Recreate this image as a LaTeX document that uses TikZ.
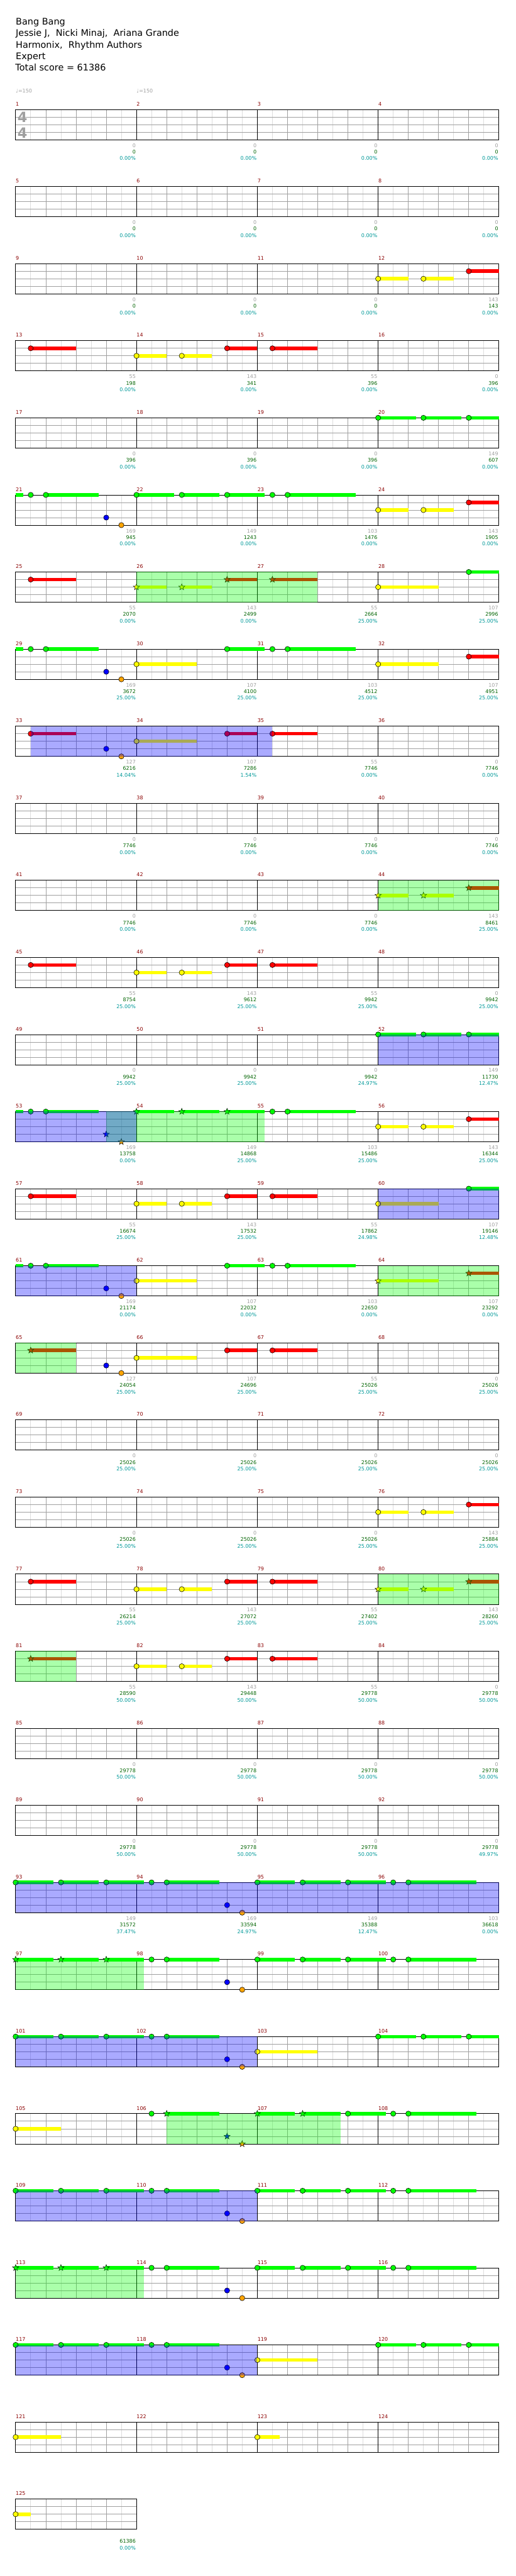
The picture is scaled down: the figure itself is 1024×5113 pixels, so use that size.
\documentclass[tikz,border=0pt]{standalone}
\usepackage{fontspec}
\setmainfont{DejaVu Sans}
\usetikzlibrary{shapes.geometric}
\definecolor{lgrid}{RGB}{221,221,221}
\definecolor{ggrid}{RGB}{160,160,160}
\definecolor{mnum}{RGB}{139,0,0}
\definecolor{lgray}{RGB}{160,160,160}
\definecolor{lgreen}{RGB}{0,100,0}
\definecolor{lteal}{RGB}{0,153,153}
\definecolor{ngreen}{RGB}{0,255,0}
\definecolor{nred}{RGB}{255,0,0}
\definecolor{nyellow}{RGB}{255,255,0}
\definecolor{nblue}{RGB}{0,0,255}
\definecolor{norange}{RGB}{255,165,0}
\tikzset{
 lab/.style={anchor=base east, inner sep=0pt, font=\fontsize{10}{12}\selectfont},
 mnumst/.style={anchor=base west, inner sep=0pt, text=mnum, font=\fontsize{10}{12}\selectfont},
 starnote/.style={star, star points=5, star point ratio=2.4, minimum size=13pt, inner sep=0pt, draw=black, line width=0.6pt},
 hdr/.style={anchor=base west, inner sep=0pt, font=\fontsize{18}{22}\selectfont},
}
\newcommand\rowy[1]{\pgfmathsetmacro\ty{217.3+(#1-1)*153}}
\newcommand\inrow[2]{\rowy{#1}\begin{scope}[shift={(31,\ty)},x=60pt,y=-15pt]#2\end{scope}}
\newcommand\staffrow[3]{\inrow{#1}{%
  \pgfmathtruncatemacro\nh{8*#3}\pgfmathtruncatemacro\nq{4*#3}\pgfmathtruncatemacro\nmm{#3-1}%
  \foreach \k in {1,...,\nh}{\draw[lgrid] (\k/2,0) -- (\k/2,4);}
  \foreach \k in {1,...,\nq}{\draw[ggrid] (\k,0) -- (\k,4);}
  \foreach \l in {1,2,3}{\draw[ggrid] (0,\l) -- (\nq,\l);}
  \foreach \k in {0,...,\nmm}{\draw[black] (4*\k,0) -- (4*\k,4);
     \node[mnumst] at (4*\k,-0.487) {\the\numexpr#2+\k\relax};}
  \draw[black] (0,0) rectangle (\nq,4);}}
\newcommand\labs[2]{\inrow{#1}{%
  \foreach \g/\n/\p [count=\i] in {#2}{
   \node[lab,text=lgray] at ([xshift=-1pt]4*\i,5.0) {\g};
   \node[lab,text=lgreen] at ([xshift=-1pt]4*\i,5.847) {\n};
   \node[lab,text=lteal] at ([xshift=-1pt]4*\i,6.733) {\p\%};}}}
\newcommand\Su[4]{\fill[#4] (#1,#3-0.2333) rectangle (#2,#3+0.2333);}
\newcommand\Nt[3]{\filldraw[fill=#3,draw=black,line width=0.7pt] (#1,#2) circle[radius=5.2pt];}
\newcommand\St[3]{\node[starnote,fill=#3] at (#1,#2) {};}
\newcommand\SN[4]{\Su{#1}{#2}{#3}{#4}\Nt{#1}{#3}{#4}}
\newcommand\SSt[4]{\Su{#1}{#2}{#3}{#4}\St{#1}{#3}{#4}}
\newcommand\OvG[2]{\fill[ngreen,fill opacity=0.3333] (#1,0) rectangle (#2,4);}
\newcommand\OvB[2]{\fill[nblue,fill opacity=0.3333] (#1,0) rectangle (#2,4);}
\newcommand\pYYR[1]{\SN{#1}{#1+1}{2}{nyellow}\SN{#1+1.5}{#1+2.5}{2}{nyellow}\SN{#1+3}{#1+4}{1}{nred}}
\newcommand\sYYR[1]{\SSt{#1}{#1+1}{2}{nyellow}\SSt{#1+1.5}{#1+2.5}{2}{nyellow}\SSt{#1+3}{#1+4}{1}{nred}}
\newcommand\pR[1]{\SN{#1+0.5}{#1+2}{1}{nred}}
\newcommand\pGstart[1]{\SN{#1}{#1+1.25}{0}{ngreen}\SN{#1+1.5}{#1+2.75}{0}{ngreen}\SN{#1+3}{#1+4}{0}{ngreen}}
\newcommand\pGa[1]{\Su{#1}{#1+0.25}{0}{ngreen}\Nt{#1+0.5}{0}{ngreen}\SN{#1+1}{#1+2.75}{0}{ngreen}\Nt{#1+3}{3}{nblue}\Nt{#1+3.5}{4}{norange}}
\newcommand\pGb[1]{\SN{#1}{#1+1.25}{0}{ngreen}\SN{#1+1.5}{#1+2.75}{0}{ngreen}\SN{#1+3}{#1+4.25}{0}{ngreen}\Nt{#1+4.5}{0}{ngreen}\SN{#1+5}{#1+7.25}{0}{ngreen}}
\newcommand\pGc[1]{\SN{#1}{#1+1.25}{0}{ngreen}\Nt{#1+1.5}{0}{ngreen}\SN{#1+2}{#1+4.25}{0}{ngreen}}
\newcommand\pChA{\SN{0}{1.25}{0}{ngreen}\SN{1.5}{2.75}{0}{ngreen}\SN{3}{4.25}{0}{ngreen}\Nt{4.5}{0}{ngreen}\SN{5}{6.75}{0}{ngreen}\Nt{7}{3}{nblue}\Nt{7.5}{4}{norange}}
\newcommand\pChB{\SN{8}{9.25}{0}{ngreen}\SN{9.5}{10.75}{0}{ngreen}\SN{11}{12.25}{0}{ngreen}\Nt{12.5}{0}{ngreen}\SN{13}{15.25}{0}{ngreen}}
\begin{document}
\begin{tikzpicture}[x=1pt,y=-1pt,line width=1pt]
\useasboundingbox[fill=white] (0,0) rectangle (1024,5113);
% header
\node[hdr] (title) at (31,49.3) {Bang Bang};
\node[hdr] (artist) at (31,72) {Jessie J,\ \ Nicki Minaj,\ \ Ariana Grande};
\node[hdr] (author) at (31,95) {Harmonix,\ \ Rhythm Authors};
\node[hdr] (diff) at (31,118) {Expert};
\node[hdr] (total) at (30,141) {Total score = 61386};
\node[anchor=base west,inner sep=0pt,text=lgray,font=\fontsize{10}{12}\selectfont] (tempo1) at (31,184) {♩=150};
\node[anchor=base west,inner sep=0pt,text=lgray,font=\fontsize{10}{12}\selectfont] (tempo2) at (271,184) {♩=150};
% staffs
\staffrow{1}{1}{4}\staffrow{2}{5}{4}\staffrow{3}{9}{4}\staffrow{4}{13}{4}
\staffrow{5}{17}{4}\staffrow{6}{21}{4}\staffrow{7}{25}{4}\staffrow{8}{29}{4}
\staffrow{9}{33}{4}\staffrow{10}{37}{4}\staffrow{11}{41}{4}\staffrow{12}{45}{4}
\staffrow{13}{49}{4}\staffrow{14}{53}{4}\staffrow{15}{57}{4}\staffrow{16}{61}{4}
\staffrow{17}{65}{4}\staffrow{18}{69}{4}\staffrow{19}{73}{4}\staffrow{20}{77}{4}
\staffrow{21}{81}{4}\staffrow{22}{85}{4}\staffrow{23}{89}{4}\staffrow{24}{93}{4}
\staffrow{25}{97}{4}\staffrow{26}{101}{4}\staffrow{27}{105}{4}\staffrow{28}{109}{4}
\staffrow{29}{113}{4}\staffrow{30}{117}{4}\staffrow{31}{121}{4}\staffrow{32}{125}{1}
% time signature
\node[anchor=base,inner sep=0pt,text=lgray,font=\bfseries\fontsize{28}{28}\selectfont] (ts1) at (44.5,243.3) {4};
\node[anchor=base,inner sep=0pt,text=lgray,font=\bfseries\fontsize{28}{28}\selectfont] (ts2) at (44.5,274) {4};
% notes
\inrow{3}{\pYYR{12}}
\inrow{4}{\pR{0}\pYYR{4}\pR{8}}
\inrow{5}{\pGstart{12}}
\inrow{6}{\pGa{0}\pGb{4}\pYYR{12}}
\inrow{7}{\pR{0}\sYYR{4}\SSt{8.5}{10}{1}{nred}\SN{12}{14}{2}{nyellow}\SN{15}{16}{0}{ngreen}\OvG{4}{10}}
\inrow{8}{\pGa{0}\SN{4}{6}{2}{nyellow}\pGc{7}\SN{12}{14}{2}{nyellow}\SN{15}{16}{1}{nred}}
\inrow{9}{\pR{0}\Nt{3}{3}{nblue}\Nt{3.5}{4}{norange}\SN{4}{6}{2}{nyellow}\SN{7}{8}{1}{nred}\SN{8.5}{10}{1}{nred}\OvB{0.5}{8.5}}
\inrow{11}{\sYYR{12}\OvG{12}{16}}
\inrow{12}{\pR{0}\pYYR{4}\pR{8}}
\inrow{13}{\pGstart{12}\OvB{12}{16}}
\inrow{14}{\Su{0}{0.25}{0}{ngreen}\Nt{0.5}{0}{ngreen}\SN{1}{2.75}{0}{ngreen}\St{3}{3}{nblue}\St{3.5}{4}{norange}%
  \SSt{4}{5.25}{0}{ngreen}\SSt{5.5}{6.75}{0}{ngreen}\SSt{7}{8.25}{0}{ngreen}\Nt{8.5}{0}{ngreen}\SN{9}{11.25}{0}{ngreen}\pYYR{12}\OvG{3}{8.25}\OvB{0}{4}}
\inrow{15}{\pR{0}\pYYR{4}\pR{8}\SN{12}{14}{2}{nyellow}\SN{15}{16}{0}{ngreen}\OvB{12}{16}}
\inrow{16}{\pGa{0}\SN{4}{6}{2}{nyellow}\pGc{7}\SSt{12}{14}{2}{nyellow}\SSt{15}{16}{1}{nred}\OvB{0}{4}\OvG{12}{16}}
\inrow{17}{\SSt{0.5}{2}{1}{nred}\Nt{3}{3}{nblue}\Nt{3.5}{4}{norange}\SN{4}{6}{2}{nyellow}\SN{7}{8}{1}{nred}\SN{8.5}{10}{1}{nred}\OvG{0}{2}}
\inrow{19}{\pYYR{12}}
\inrow{20}{\pR{0}\pYYR{4}\pR{8}\sYYR{12}\OvG{12}{16}}
\inrow{21}{\SSt{0.5}{2}{1}{nred}\pYYR{4}\pR{8}\OvG{0}{2}}
\inrow{24}{\pChA\pChB\OvB{0}{16}}
\inrow{25}{\SSt{0}{1.25}{0}{ngreen}\SSt{1.5}{2.75}{0}{ngreen}\SSt{3}{4.25}{0}{ngreen}\Nt{4.5}{0}{ngreen}\SN{5}{6.75}{0}{ngreen}\Nt{7}{3}{nblue}\Nt{7.5}{4}{norange}\pChB\OvG{0}{4.25}}
\inrow{26}{\pChA\SN{8}{10}{2}{nyellow}\pGstart{12}\OvB{0}{8}}
\inrow{27}{\SN{0}{1.5}{2}{nyellow}\Nt{4.5}{0}{ngreen}\SSt{5}{6.75}{0}{ngreen}\St{7}{3}{nblue}\St{7.5}{4}{norange}\SSt{8}{9.25}{0}{ngreen}\SSt{9.5}{10.75}{0}{ngreen}\SN{11}{12.25}{0}{ngreen}\Nt{12.5}{0}{ngreen}\SN{13}{15.25}{0}{ngreen}\OvG{5}{10.75}}
\inrow{28}{\pChA\pChB\OvB{0}{8}}
\inrow{29}{\SSt{0}{1.25}{0}{ngreen}\SSt{1.5}{2.75}{0}{ngreen}\SSt{3}{4.25}{0}{ngreen}\Nt{4.5}{0}{ngreen}\SN{5}{6.75}{0}{ngreen}\Nt{7}{3}{nblue}\Nt{7.5}{4}{norange}\pChB\OvG{0}{4.25}}
\inrow{30}{\pChA\SN{8}{10}{2}{nyellow}\pGstart{12}\OvB{0}{8}}
\inrow{31}{\SN{0}{1.5}{2}{nyellow}\SN{8}{8.75}{2}{nyellow}}
\inrow{32}{\SN{0}{0.5}{2}{nyellow}}
% labels
\labs{1}{0/0/0.00,0/0/0.00,0/0/0.00,0/0/0.00}
\labs{2}{0/0/0.00,0/0/0.00,0/0/0.00,0/0/0.00}
\labs{3}{0/0/0.00,0/0/0.00,0/0/0.00,143/143/0.00}
\labs{4}{55/198/0.00,143/341/0.00,55/396/0.00,0/396/0.00}
\labs{5}{0/396/0.00,0/396/0.00,0/396/0.00,149/607/0.00}
\labs{6}{169/945/0.00,149/1243/0.00,103/1476/0.00,143/1905/0.00}
\labs{7}{55/2070/0.00,143/2499/0.00,55/2664/25.00,107/2996/25.00}
\labs{8}{169/3672/25.00,107/4100/25.00,103/4512/25.00,107/4951/25.00}
\labs{9}{127/6216/14.04,107/7286/1.54,55/7746/0.00,0/7746/0.00}
\labs{10}{0/7746/0.00,0/7746/0.00,0/7746/0.00,0/7746/0.00}
\labs{11}{0/7746/0.00,0/7746/0.00,0/7746/0.00,143/8461/25.00}
\labs{12}{55/8754/25.00,143/9612/25.00,55/9942/25.00,0/9942/25.00}
\labs{13}{0/9942/25.00,0/9942/25.00,0/9942/24.97,149/11730/12.47}
\labs{14}{169/13758/0.00,149/14868/25.00,103/15486/25.00,143/16344/25.00}
\labs{15}{55/16674/25.00,143/17532/25.00,55/17862/24.98,107/19146/12.48}
\labs{16}{169/21174/0.00,107/22032/0.00,103/22650/0.00,107/23292/0.00}
\labs{17}{127/24054/25.00,107/24696/25.00,55/25026/25.00,0/25026/25.00}
\labs{18}{0/25026/25.00,0/25026/25.00,0/25026/25.00,0/25026/25.00}
\labs{19}{0/25026/25.00,0/25026/25.00,0/25026/25.00,143/25884/25.00}
\labs{20}{55/26214/25.00,143/27072/25.00,55/27402/25.00,143/28260/25.00}
\labs{21}{55/28590/50.00,143/29448/50.00,55/29778/50.00,0/29778/50.00}
\labs{22}{0/29778/50.00,0/29778/50.00,0/29778/50.00,0/29778/50.00}
\labs{23}{0/29778/50.00,0/29778/50.00,0/29778/50.00,0/29778/49.97}
\labs{24}{149/31572/37.47,169/33594/24.97,149/35388/12.47,103/36618/0.00}
\inrow{32}{\node[lab,text=lgreen] (final) at ([xshift=-1pt]4,5.847) {61386};
  \node[lab,text=lteal] (finalpct) at ([xshift=-1pt]4,6.733) {0.00\%};}
\end{tikzpicture}
\end{document}
